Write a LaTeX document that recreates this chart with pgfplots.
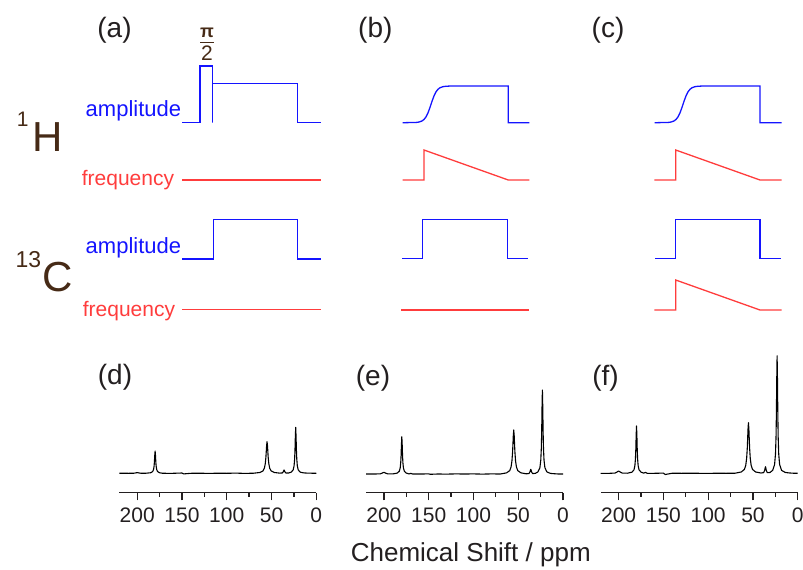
\documentclass[border=0pt]{standalone}
\usepackage{pgfplots}
\pgfplotsset{compat=1.18}
\usepackage{pgfplotstable}
\usepackage{fontspec}
\setmainfont{Liberation Sans}
\definecolor{txt}{RGB}{35,31,32}
\definecolor{brn}{RGB}{70,42,22}
\definecolor{pblue}{RGB}{20,20,255}
\definecolor{pred}{RGB}{255,60,60}

\pgfplotstableread{
ppm d e f
0 0 0 0
5 0.1 0 0.1
10 0.2 0.3 0.4
14 0.4 0.6 0.9
18 1.15 2.1 2.94
20.2 3.45 6.3 8.82
21.2 7.59 13.86 19.4
21.8 14.17 25.87 36.22
22.2 23 42 58.8
22.6 36.8 67.2 94.08
23 46 84 117.6
23.4 36.8 67.2 94.08
23.8 23 42 58.8
24.2 14.17 25.87 36.22
24.8 7.59 13.86 19.4
25.8 3.45 6.3 8.82
28 1.15 2.1 2.94
31 0.3 0.6 0.8
34 0.33 0.47 0.66
35.2 1.65 2.35 3.3
35.6 2.64 3.76 5.28
36 3.3 4.7 6.6
36.4 2.64 3.76 5.28
36.8 1.65 2.35 3.3
38 0.33 0.47 0.66
41 0.2 0.2 0.3
47 0.82 1.14 1.32
50.5 2.43 3.39 3.9
52 5.06 7.04 8.1
53 9.48 13.2 15.18
53.7 15.8 22 25.3
54 19.9 27.7 31.9
54.5 27.5 38.3 44
55 31.6 44 50.6
55.5 27.5 38.3 44
56 19.9 27.7 31.9
56.3 15.8 22 25.3
57 9.48 13.2 15.18
58 5.06 7.04 8.1
59.5 2.43 3.39 3.9
63 0.82 1.14 1.32
70 0.1 0 0.1
80 -0.1 0.1 0
90 0.2 -0.1 0.1
100 0 0.1 -0.1
110 0.1 0 0
120 -0.1 0.1 0.1
130 0.1 -0.1 0
140 0 0 0.1
148 -0.6 -0.3 -1.2
150 0.3 0.1 0.2
160 0 0 0
168 0 0 0
170 0.1 0.6 0.9
172 0.1 0.1 0.2
175 0.56 0.93 1.18
177.2 1.67 2.8 3.55
178.2 3.68 6.15 7.8
178.8 6.87 11.49 14.57
179.2 11.15 18.65 23.65
179.6 17.84 29.84 37.84
180 22.3 37.3 47.3
180.4 17.84 29.84 37.84
180.8 11.15 18.65 23.65
181.2 6.87 11.49 14.57
181.8 3.68 6.15 7.8
182.8 1.67 2.8 3.55
185 0.56 0.93 1.18
190 0.1 0.1 0.1
196 0.07 0.17 0.23
198 0.35 0.85 1.15
200 0.7 1.7 2.3
202 0.35 0.85 1.15
204 0.07 0.17 0.23
210 0 0 0
220 0.1 0 0
}\spec

\pgfplotsset{
  specaxis/.style={
    scale only axis, width=98.5pt,
    xmin=0, xmax=220, x dir=reverse, ymax=125,
    axis x line*=bottom, hide y axis,
    xtick={0,50,100,150,200}, minor xtick={25,75,125,175},
    tick align=outside, major tick length=3.85pt, minor tick length=2pt,
    every tick/.style={txt, line width=0.65pt},
    x axis line style={txt, line width=0.65pt},
    /pgf/number format/assume math mode=true,
    xticklabel style={font=\fontsize{10.5}{12}\selectfont, text=txt},
    no markers, clip=false,
  },
  spec/.style={black, line width=0.55pt, line join=round},
}

\begin{document}
\begin{tikzpicture}
\begin{axis}[scale only axis, width=401.5pt, height=284.5pt,
  xmin=0, xmax=803, ymin=0, ymax=569, y dir=reverse,
  hide axis, clip=false, no markers]
% ---- (a) ----
\addplot[pblue, line width=0.65pt] coordinates {(182,122.7)(200,122.7)(200,66)(212.7,66)(212.7,122.7)(212.7,83.3)(297.7,83.3)(297.7,122.7)(320.7,122.7)};
\addplot[pred, line width=0.65pt] coordinates {(182,180)(320.7,180)};
\addplot[pblue, line width=0.65pt] coordinates {(182,259)(213.3,259)(213.3,219.3)(297.7,219.3)(297.7,259)(320.7,259)};
\addplot[pred, line width=0.65pt] coordinates {(182,309.3)(320.7,309.3)};
% ---- (b) ----
\addplot[pblue, line width=0.65pt] coordinates {(402.7,122.7)(416,122.45)(419,122.04)(422,120.97)(424,119.45)(426,116.86)(428,112.83)(430,107.4)(431,104.35)(432,101.3)(434,95.87)(436,91.84)(438,89.25)(440,87.73)(443,86.66)(446,86.25)(450,86.05)(454,86)(508.3,86)(508.3,122.7)(529.3,122.7)};
\addplot[pred, line width=0.65pt] coordinates {(402.7,180)(424,180)(424,150)(508.3,180)(529.3,180)};
\addplot[pblue, line width=0.65pt] coordinates {(402,258.7)(422.7,258.7)(422.7,219.7)(507.7,219.7)(507.7,258.7)(528.3,258.7)};
\addplot[pred, line width=0.65pt] coordinates {(401.3,310)(529.3,310)};
% ---- (c) ----
\addplot[pblue, line width=0.65pt] coordinates {(654.7,122.7)(668,122.45)(671,122.04)(674,120.97)(676,119.45)(678,116.86)(680,112.83)(682,107.4)(683,104.35)(684,101.3)(686,95.87)(688,91.84)(690,89.25)(692,87.73)(695,86.66)(698,86.25)(702,86.05)(706,86)(760,86)(760,122.7)(781.7,122.7)};
\addplot[pred, line width=0.65pt] coordinates {(654.3,180)(675.7,180)(675.7,150)(760,180)(781.7,180)};
\addplot[pblue, line width=0.65pt] coordinates {(655,258.7)(675.7,258.7)(675.7,219.7)(760,219.7)(760,258.7)(780.7,258.7)};
\addplot[pred, line width=0.65pt] coordinates {(654.3,310)(675.7,310)(675.7,280)(760,310)(781.7,310)};
% ---- texts ----
\node[text=txt, font=\fontsize{14}{16}\selectfont] at (axis cs:114.5,30.5) {(a)};
\node[text=txt, font=\fontsize{14}{16}\selectfont] at (axis cs:375.3,30) {(b)};
\node[text=txt, font=\fontsize{14}{16}\selectfont] at (axis cs:608,30) {(c)};
\node[text=txt, font=\fontsize{14}{16}\selectfont] at (axis cs:115,377.5) {(d)};
\node[text=txt, font=\fontsize{14}{16}\selectfont] at (axis cs:373,378) {(e)};
\node[text=txt, font=\fontsize{14}{16}\selectfont] at (axis cs:605.5,378) {(f)};
\node[text=brn, font=\fontsize{9}{10}\selectfont\bfseries, inner sep=0pt] at (axis cs:207,32.5) {π};
\node[fill=brn, inner sep=0pt, minimum width=7pt, minimum height=0.65pt] at (axis cs:207,42.3) {};
\node[text=brn, font=\fontsize{10.5}{12}\selectfont, inner sep=0pt] at (axis cs:207,53.3) {2};
\node[text=brn, font=\fontsize{10.5}{12}\selectfont, inner sep=0pt, anchor=base] at (axis cs:22.7,126.7) {1};
\node[text=brn, font=\fontsize{21}{24}\selectfont, inner sep=0pt, anchor=base] at (axis cs:47.2,151.7) {H};
\node[text=brn, font=\fontsize{11.5}{13}\selectfont, inner sep=0pt, anchor=base] at (axis cs:28.4,267.5) {13};
\node[text=brn, font=\fontsize{21}{24}\selectfont, inner sep=0pt, anchor=base] at (axis cs:57.5,291) {C};
\node[text=pblue, font=\fontsize{11}{13}\selectfont, inner sep=0pt, anchor=base east] at (axis cs:181.5,116.9) {amplitude};
\node[text=pred, font=\fontsize{10.5}{12}\selectfont, inner sep=0pt, anchor=base east] at (axis cs:174.5,185) {frequency};
\node[text=pblue, font=\fontsize{11}{13}\selectfont, inner sep=0pt, anchor=base east] at (axis cs:181.5,253.3) {amplitude};
\node[text=pred, font=\fontsize{10.5}{12}\selectfont, inner sep=0pt, anchor=base east] at (axis cs:175.5,316) {frequency};
\node[text=txt, font=\fontsize{13}{15}\selectfont, inner sep=0pt, anchor=base] at (axis cs:470.8,561.7) {Chemical Shift / ppm};
\end{axis}

\begin{axis}[specaxis, at={(59.65pt,38.15pt)}, anchor=south west, ymin=-19.4, height=72.2pt]
\addplot[spec] table[x=ppm, y=d] {\spec};
\end{axis}
\begin{axis}[specaxis, at={(183pt,38.15pt)}, anchor=south west, ymin=-18.7, height=71.85pt]
\addplot[spec] table[x=ppm, y=e] {\spec};
\end{axis}
\begin{axis}[specaxis, at={(300.35pt,38.15pt)}, anchor=south west, ymin=-19.4, height=72.2pt]
\addplot[spec] table[x=ppm, y=f] {\spec};
\end{axis}

\pgfresetboundingbox
\path (0,0) rectangle (401.5pt,284.5pt);
\end{tikzpicture}
\end{document}
